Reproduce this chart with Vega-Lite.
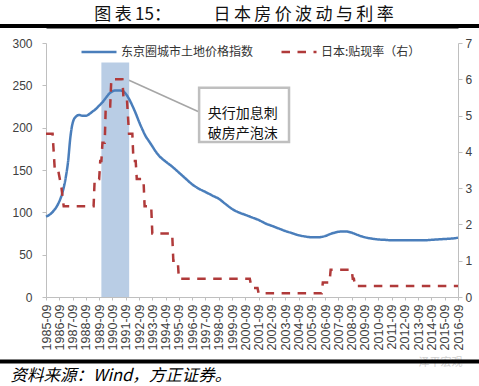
{
  "$schema": "https://vega.github.io/schema/vega-lite/v6.json",
  "width": 412,
  "height": 254,
  "autosize": {"type": "none"},
  "padding": {"left": 46, "top": 43, "right": 21, "bottom": 89},
  "background": "white",
  "title": {
    "text": "图\u2009表\u200915：\u3000\u3000\u3000日\u2009本\u2009房\u2009价\u2009波\u2009动\u2009与\u2009利\u2009率",
    "font": "Noto Sans CJK SC",
    "fontSize": 17,
    "fontWeight": "normal",
    "color": "#111111",
    "anchor": "middle",
    "frame": "group",
    "baseline": "middle",
    "dx": -8,
    "offset": -8
  },
  "config": {
    "view": {"stroke": null},
    "axis": {"grid": false, "labelFont": "Liberation Sans", "labelColor": "#404040", "domainColor": "#bfbfbf", "tickColor": "#bfbfbf"},
    "axisX": {"labelOverlap": false, "labelFlush": false}
  },
  "datasets": {
    "land": [
      {"date": "1985/09/01", "value": 95},
      {"date": "1986/01/01", "value": 98},
      {"date": "1986/04/01", "value": 102},
      {"date": "1986/08/01", "value": 110},
      {"date": "1986/12/01", "value": 124},
      {"date": "1987/03/01", "value": 142},
      {"date": "1987/05/01", "value": 160},
      {"date": "1987/07/01", "value": 188},
      {"date": "1987/09/01", "value": 205},
      {"date": "1987/12/01", "value": 213},
      {"date": "1988/03/01", "value": 215},
      {"date": "1988/06/01", "value": 214},
      {"date": "1988/09/01", "value": 214},
      {"date": "1988/12/01", "value": 216},
      {"date": "1989/03/01", "value": 219},
      {"date": "1989/06/01", "value": 222},
      {"date": "1989/09/01", "value": 226},
      {"date": "1989/12/01", "value": 230},
      {"date": "1990/03/01", "value": 235},
      {"date": "1990/06/01", "value": 240},
      {"date": "1990/09/01", "value": 243},
      {"date": "1990/12/01", "value": 244},
      {"date": "1991/03/01", "value": 244},
      {"date": "1991/06/01", "value": 243.5},
      {"date": "1991/09/01", "value": 240},
      {"date": "1991/12/01", "value": 234},
      {"date": "1992/03/01", "value": 226},
      {"date": "1992/06/01", "value": 217},
      {"date": "1992/09/01", "value": 207},
      {"date": "1992/12/01", "value": 198},
      {"date": "1993/03/01", "value": 190},
      {"date": "1993/06/01", "value": 184},
      {"date": "1993/09/01", "value": 178},
      {"date": "1993/12/01", "value": 172},
      {"date": "1994/03/01", "value": 167},
      {"date": "1994/09/01", "value": 160},
      {"date": "1995/03/01", "value": 154},
      {"date": "1995/09/01", "value": 147},
      {"date": "1996/03/01", "value": 140},
      {"date": "1996/09/01", "value": 133},
      {"date": "1997/03/01", "value": 128},
      {"date": "1997/09/01", "value": 124},
      {"date": "1998/03/01", "value": 120},
      {"date": "1998/09/01", "value": 116},
      {"date": "1999/03/01", "value": 110},
      {"date": "1999/09/01", "value": 104},
      {"date": "2000/03/01", "value": 100},
      {"date": "2000/09/01", "value": 97},
      {"date": "2001/03/01", "value": 94},
      {"date": "2001/09/01", "value": 91},
      {"date": "2002/03/01", "value": 87},
      {"date": "2002/09/01", "value": 84},
      {"date": "2003/03/01", "value": 81},
      {"date": "2003/09/01", "value": 78},
      {"date": "2004/03/01", "value": 75.5},
      {"date": "2004/09/01", "value": 73},
      {"date": "2005/03/01", "value": 71.5},
      {"date": "2005/09/01", "value": 70.5},
      {"date": "2006/03/01", "value": 70.5},
      {"date": "2006/09/01", "value": 72},
      {"date": "2007/03/01", "value": 75},
      {"date": "2007/09/01", "value": 77},
      {"date": "2008/03/01", "value": 77.5},
      {"date": "2008/09/01", "value": 76},
      {"date": "2009/03/01", "value": 73},
      {"date": "2009/09/01", "value": 70.5},
      {"date": "2010/03/01", "value": 69},
      {"date": "2010/09/01", "value": 68},
      {"date": "2011/03/01", "value": 67.5},
      {"date": "2011/09/01", "value": 67},
      {"date": "2012/03/01", "value": 67},
      {"date": "2012/09/01", "value": 67},
      {"date": "2013/03/01", "value": 67},
      {"date": "2013/09/01", "value": 67},
      {"date": "2014/03/01", "value": 67},
      {"date": "2014/09/01", "value": 67.5},
      {"date": "2015/03/01", "value": 68},
      {"date": "2015/09/01", "value": 68.5},
      {"date": "2016/03/01", "value": 69},
      {"date": "2016/09/01", "value": 70}
    ],
    "rate": [
      {"date": "1985/09/01", "value": 4.5},
      {"date": "1986/03/01", "value": 4.5},
      {"date": "1986/05/01", "value": 3.5},
      {"date": "1986/08/01", "value": 3.5},
      {"date": "1986/11/01", "value": 3.0},
      {"date": "1987/01/01", "value": 2.5},
      {"date": "1989/04/01", "value": 2.5},
      {"date": "1989/05/01", "value": 3.25},
      {"date": "1989/09/01", "value": 3.25},
      {"date": "1989/10/01", "value": 3.75},
      {"date": "1989/11/01", "value": 3.75},
      {"date": "1989/12/01", "value": 4.25},
      {"date": "1990/02/01", "value": 4.25},
      {"date": "1990/03/01", "value": 5.25},
      {"date": "1990/07/01", "value": 5.25},
      {"date": "1990/08/01", "value": 6.0},
      {"date": "1991/06/01", "value": 6.0},
      {"date": "1991/07/01", "value": 5.5},
      {"date": "1991/10/01", "value": 5.5},
      {"date": "1991/11/01", "value": 5.0},
      {"date": "1991/12/01", "value": 4.5},
      {"date": "1992/03/01", "value": 4.5},
      {"date": "1992/04/01", "value": 3.75},
      {"date": "1992/06/01", "value": 3.75},
      {"date": "1992/07/01", "value": 3.25},
      {"date": "1993/01/01", "value": 3.25},
      {"date": "1993/02/01", "value": 2.5},
      {"date": "1993/08/01", "value": 2.5},
      {"date": "1993/09/01", "value": 1.75},
      {"date": "1995/03/01", "value": 1.75},
      {"date": "1995/04/01", "value": 1.0},
      {"date": "1995/08/01", "value": 1.0},
      {"date": "1995/09/01", "value": 0.5},
      {"date": "2001/01/01", "value": 0.5},
      {"date": "2001/02/01", "value": 0.35},
      {"date": "2001/03/01", "value": 0.25},
      {"date": "2001/08/01", "value": 0.25},
      {"date": "2001/09/01", "value": 0.1},
      {"date": "2006/06/01", "value": 0.1},
      {"date": "2006/07/01", "value": 0.4},
      {"date": "2007/01/01", "value": 0.4},
      {"date": "2007/02/01", "value": 0.75},
      {"date": "2008/09/01", "value": 0.75},
      {"date": "2008/10/01", "value": 0.5},
      {"date": "2008/11/01", "value": 0.5},
      {"date": "2008/12/01", "value": 0.3},
      {"date": "2016/09/01", "value": 0.3}
    ]
  },
  "layer": [
    {
      "layer": [
        {
          "data": {"values": [{}]},
          "mark": {"type": "rect", "color": "#b9cde5"},
          "encoding": {
            "x": {"datum": {"year": 1989, "month": 11, "date": 1}, "type": "temporal", "scale": {"domain": [{"year": 1985, "month": 9, "date": 1}, {"year": 2016, "month": 9, "date": 1}], "nice": false}, "axis": null},
            "x2": {"datum": {"year": 1991, "month": 12, "date": 5}},
            "y": {"datum": 0, "type": "quantitative", "scale": {"domain": [0, 300]}, "axis": null},
            "y2": {"datum": 277}
          }
        },
        {
          "data": {"values": [{}]},
          "mark": {"type": "rule", "color": "#a6a6a6", "strokeWidth": 1.6},
          "encoding": {
            "x": {"datum": {"year": 1991, "month": 12, "date": 1}, "type": "temporal", "scale": {"domain": [{"year": 1985, "month": 9, "date": 1}, {"year": 2016, "month": 9, "date": 1}], "nice": false}, "axis": null},
            "x2": {"datum": {"year": 1997, "month": 2, "date": 10}},
            "y": {"datum": 256, "type": "quantitative", "scale": {"domain": [0, 300]}, "axis": null},
            "y2": {"datum": 219}
          }
        },
        {
          "data": {"values": [{}]},
          "mark": {"type": "rect", "fill": "white", "stroke": "#bfbfbf", "strokeWidth": 2.5},
          "encoding": {
            "x": {"datum": {"year": 1997, "month": 3, "date": 10}, "type": "temporal", "scale": {"domain": [{"year": 1985, "month": 9, "date": 1}, {"year": 2016, "month": 9, "date": 1}], "nice": false}, "axis": null},
            "x2": {"datum": {"year": 2003, "month": 12, "date": 15}},
            "y": {"datum": 183, "type": "quantitative", "scale": {"domain": [0, 300]}, "axis": null},
            "y2": {"datum": 247}
          }
        },
        {
          "data": {"values": [{}]},
          "mark": {"type": "text", "align": "left", "baseline": "middle", "font": "Noto Sans CJK SC", "fontSize": 14, "lineHeight": 20, "color": "#111111"},
          "encoding": {
            "x": {"datum": {"year": 1997, "month": 11, "date": 3}, "type": "temporal", "scale": {"domain": [{"year": 1985, "month": 9, "date": 1}, {"year": 2016, "month": 9, "date": 1}], "nice": false}, "axis": null},
            "y": {"datum": 216, "type": "quantitative", "scale": {"domain": [0, 300]}, "axis": null},
            "text": {"value": ["央行加息刺", "破房产泡沫"]}
          }
        },
        {
          "data": {"values": [{}]},
          "mark": {"type": "rule", "color": "black", "strokeWidth": 4, "clip": false},
          "encoding": {
            "x": {
              "datum": {"year": 1982, "month": 1, "date": 1}, "type": "temporal",
              "scale": {"domain": [{"year": 1985, "month": 9, "date": 1}, {"year": 2016, "month": 9, "date": 1}], "nice": false},
              "axis": {"orient": "top", "offset": 17, "domainColor": "#000000", "domainWidth": 4, "labels": false, "ticks": false, "title": null, "domainCap": "butt"}
            },
            "x2": {"datum": {"year": 2018, "month": 6, "date": 1}},
            "y": {"datum": 320, "type": "quantitative", "scale": {"domain": [0, 300]}, "axis": null}
          }
        },
        {
          "data": {"values": [{}]},
          "mark": {"type": "rule", "color": "black", "strokeWidth": 4, "clip": false},
          "encoding": {
            "x": {"datum": {"year": 1982, "month": 1, "date": 1}, "type": "temporal", "scale": {"domain": [{"year": 1985, "month": 9, "date": 1}, {"year": 2016, "month": 9, "date": 1}], "nice": false}, "axis": null},
            "x2": {"datum": {"year": 2018, "month": 6, "date": 1}},
            "y": {"datum": -76.2, "type": "quantitative", "scale": {"domain": [0, 300]}, "axis": null}
          }
        },
        {
          "data": {"name": "land"},
          "mark": {"type": "line", "interpolate": "monotone", "strokeWidth": 2.5},
          "encoding": {
            "x": {
              "field": "date", "type": "temporal",
              "scale": {"domain": [{"year": 1985, "month": 9, "date": 1}, {"year": 2016, "month": 9, "date": 1}], "nice": false},
              "axis": {
                "values": [
                  {"year": 1985, "month": 9, "date": 1}, {"year": 1986, "month": 9, "date": 1}, {"year": 1987, "month": 9, "date": 1}, {"year": 1988, "month": 9, "date": 1},
                  {"year": 1989, "month": 9, "date": 1}, {"year": 1990, "month": 9, "date": 1}, {"year": 1991, "month": 9, "date": 1}, {"year": 1992, "month": 9, "date": 1},
                  {"year": 1993, "month": 9, "date": 1}, {"year": 1994, "month": 9, "date": 1}, {"year": 1995, "month": 9, "date": 1}, {"year": 1996, "month": 9, "date": 1},
                  {"year": 1997, "month": 9, "date": 1}, {"year": 1998, "month": 9, "date": 1}, {"year": 1999, "month": 9, "date": 1}, {"year": 2000, "month": 9, "date": 1},
                  {"year": 2001, "month": 9, "date": 1}, {"year": 2002, "month": 9, "date": 1}, {"year": 2003, "month": 9, "date": 1}, {"year": 2004, "month": 9, "date": 1},
                  {"year": 2005, "month": 9, "date": 1}, {"year": 2006, "month": 9, "date": 1}, {"year": 2007, "month": 9, "date": 1}, {"year": 2008, "month": 9, "date": 1},
                  {"year": 2009, "month": 9, "date": 1}, {"year": 2010, "month": 9, "date": 1}, {"year": 2011, "month": 9, "date": 1}, {"year": 2012, "month": 9, "date": 1},
                  {"year": 2013, "month": 9, "date": 1}, {"year": 2014, "month": 9, "date": 1}, {"year": 2015, "month": 9, "date": 1}, {"year": 2016, "month": 9, "date": 1}
                ],
                "format": "%Y-%m",
                "orient": "bottom",
                "labelAngle": 270,
                "labelFontSize": 12.5,
                "labelPadding": 4,
                "tickSize": 3,
                "labelOverlap": false,
                "labelFlush": false,
                "labelBound": false,
                "title": "资料来源：Wind，方正证券。",
                "titleX": -36,
                "titleY": 78,
                "titleAlign": "left",
                "titleAnchor": "start",
                "titleAngle": 0,
                "titleBaseline": "middle",
                "titleFont": "Noto Sans CJK SC",
                "titleFontSize": 16.5,
                "titleFontStyle": "italic",
                "titleFontWeight": "normal",
                "titleColor": "#000000"
              }
            },
            "y": {
              "field": "value", "type": "quantitative", "scale": {"domain": [0, 300]},
              "axis": {"orient": "left", "values": [0, 50, 100, 150, 200, 250, 300], "tickSize": 4, "labelPadding": 10, "labelFontSize": 12, "title": null}
            },
            "color": {
              "datum": "东京圈城市土地价格指数",
              "scale": {"domain": ["东京圈城市土地价格指数", "日本:贴现率（右）"], "range": ["#4a7ebb", "#b03a3a"]},
              "legend": {"orient": "none", "legendX": 34, "legendY": -10, "direction": "horizontal", "title": null, "symbolType": "stroke", "symbolSize": 1225, "symbolStrokeWidth": 2.5, "labelFont": "Noto Sans CJK SC", "labelFontSize": 12, "labelColor": "#333333", "columnPadding": 22, "labelOffset": 3, "padding": 0}
            },
            "strokeDash": {
              "datum": "东京圈城市土地价格指数",
              "scale": {"domain": ["东京圈城市土地价格指数", "日本:贴现率（右）"], "range": [[1, 0], [8.5, 7.5]]},
              "legend": {"orient": "none", "legendX": 34, "legendY": -10, "direction": "horizontal", "title": null, "symbolType": "stroke", "symbolSize": 1225, "symbolStrokeWidth": 2.5, "labelFont": "Noto Sans CJK SC", "labelFontSize": 12, "labelColor": "#333333", "columnPadding": 22, "labelOffset": 3, "padding": 0}
            }
          }
        }
      ],
      "resolve": {"axis": {"x": "independent", "y": "independent"}}
    },
    {
      "layer": [
        {
          "data": {"name": "rate"},
          "mark": {"type": "line", "strokeWidth": 2.5},
          "encoding": {
            "x": {"field": "date", "type": "temporal", "scale": {"domain": [{"year": 1985, "month": 9, "date": 1}, {"year": 2016, "month": 9, "date": 1}], "nice": false}, "axis": null},
            "y": {
              "field": "value", "type": "quantitative",
              "scale": {"domain": [0, 7]},
              "axis": {"orient": "right", "values": [0, 1, 2, 3, 4, 5, 6, 7], "tickSize": 4, "labelPadding": 3, "labelFontSize": 12,
                "title": "泽平宏观", "titleAngle": 0, "titleX": -40, "titleY": 319, "titleAlign": "left", "titleBaseline": "middle",
                "titleFont": "Noto Sans CJK SC", "titleFontSize": 11, "titleFontWeight": "normal", "titleColor": "#d0d0d0"}
            },
            "color": {
              "datum": "日本:贴现率（右）",
              "scale": {"domain": ["东京圈城市土地价格指数", "日本:贴现率（右）"], "range": ["#4a7ebb", "#b03a3a"]},
              "legend": {"orient": "none", "legendX": 34, "legendY": -10, "direction": "horizontal", "title": null, "symbolType": "stroke", "symbolSize": 1225, "symbolStrokeWidth": 2.5, "labelFont": "Noto Sans CJK SC", "labelFontSize": 12, "labelColor": "#333333", "columnPadding": 22, "labelOffset": 3, "padding": 0}
            },
            "strokeDash": {
              "datum": "日本:贴现率（右）",
              "scale": {"domain": ["东京圈城市土地价格指数", "日本:贴现率（右）"], "range": [[1, 0], [8.5, 7.5]]},
              "legend": {"orient": "none", "legendX": 34, "legendY": -10, "direction": "horizontal", "title": null, "symbolType": "stroke", "symbolSize": 1225, "symbolStrokeWidth": 2.5, "labelFont": "Noto Sans CJK SC", "labelFontSize": 12, "labelColor": "#333333", "columnPadding": 22, "labelOffset": 3, "padding": 0}
            }
          }
        }
      ]
    }
  ],
  "resolve": {"scale": {"y": "independent"}, "axis": {"x": "independent", "y": "independent"}}
}
